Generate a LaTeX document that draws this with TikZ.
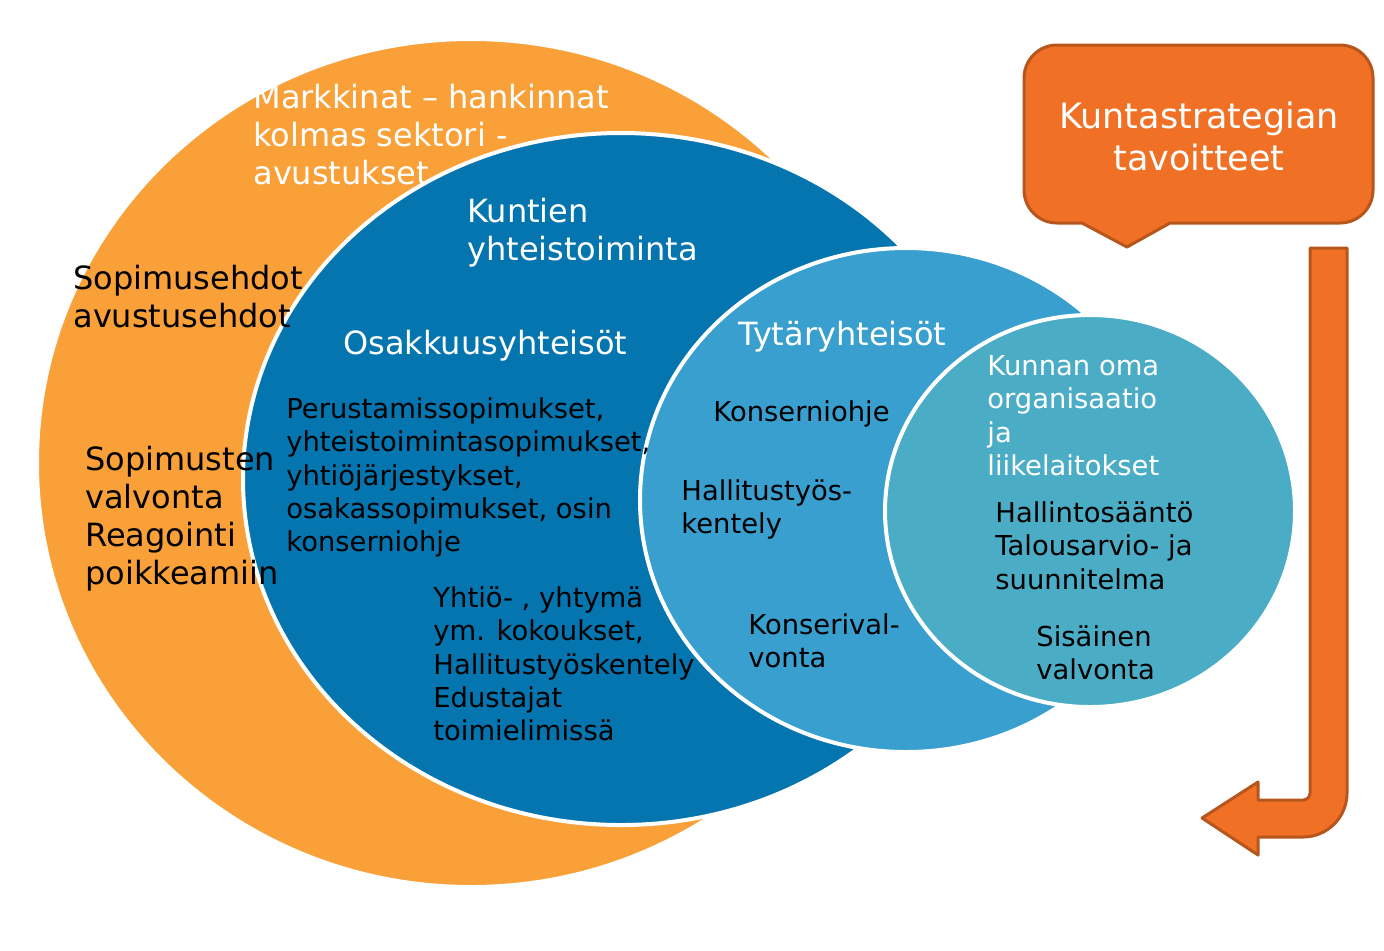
\documentclass[tikz,border=0pt]{standalone}
\usepackage{fontspec}
\setmainfont{DejaVu Sans}
\usetikzlibrary{shapes.geometric}
\definecolor{ringorange}{HTML}{F9A038}
\definecolor{ringdark}{HTML}{0575B0}
\definecolor{ringmid}{HTML}{389FCF}
\definecolor{ringteal}{HTML}{4BACC6}
\definecolor{calloutfill}{HTML}{F07125}
\definecolor{calloutedge}{HTML}{B6561D}
\begin{document}
\begin{tikzpicture}[x=0.5pt, y=-0.5pt,
    ring/.style={ellipse, draw=white, line width=2pt, inner sep=0pt},
    bigtxt/.style={anchor=north west, inner sep=0pt, align=left, font=\fontsize{16}{19}\selectfont},
    smalltxt/.style={anchor=north west, inner sep=0pt, align=left, font=\fontsize{13.7}{16.7}\selectfont},
    shapeorange/.style={fill=calloutfill, draw=calloutedge, line width=1.5pt, line join=round}]
    \useasboundingbox[fill=white] (0,0) rectangle (1384,950);
    % rings, outermost first
    \node[ring, fill=ringorange, minimum width=434pt, minimum height=424pt] (markets) at (471,463) {};
    \node[ring, fill=ringdark, minimum width=378pt, minimum height=346pt] (coop) at (621,479) {};
    \node[ring, fill=ringmid, minimum width=266pt, minimum height=252pt] (subs) at (906,500) {};
    \node[ring, fill=ringteal, minimum width=205pt, minimum height=196pt] (own) at (1090,511) {};
    % texts
    \node[bigtxt, white] (marklbl) at (253,84) {Markkinat – hankinnat\\kolmas sektori -\\avustukset};
    \node[bigtxt] (termslbl) at (73,265) {Sopimusehdot\\avustusehdot};
    \node[bigtxt] (monlbl) at (85,446) {Sopimusten\\valvonta\\Reagointi\\poikkeamiin};
    \node[bigtxt, white] (cooplbl) at (467,198) {Kuntien\\yhteistoiminta};
    \node[bigtxt, white] (assoclbl) at (343,330) {Osakkuusyhteisöt};
    \node[smalltxt] (deedlbl) at (286,397) {Perustamissopimukset,\\yhteistoimintasopimukset,\\yhtiöjärjestykset,\\osakassopimukset, osin\\konserniohje};
    \node[smalltxt] (meetlbl) at (433,586) {Yhtiö- , yhtymä\\ym. kokoukset,\\Hallitustyöskentely\\Edustajat\\toimielimissä};
    \node[bigtxt, white] (subslbl) at (738,321) {Tytäryhteisöt};
    \node[smalltxt] (guidelbl) at (713,400) {Konserniohje};
    \node[smalltxt] (boardlbl) at (681,479) {Hallitustyös-\\kentely};
    \node[smalltxt] (grouplbl) at (748,613) {Konserival-\\vonta};
    \node[smalltxt, white] (ownlbl) at (987,355) {Kunnan oma\\organisaatio\\ja\\liikelaitokset};
    \node[smalltxt] (rulelbl) at (995,501) {Hallintosääntö\\Talousarvio- ja\\suunnitelma};
    \node[smalltxt] (intlbl) at (1036,625) {Sisäinen\\valvonta};
    % callout and bent arrow
    \draw[shapeorange] (1082,223) -- (1127,247) -- (1170,223) [rounded corners=16.5pt] -- (1373,223) -- (1373,45) -- (1024,45) -- (1024,223) [sharp corners] -- cycle;
    \node[anchor=north, inner sep=0pt, align=center, white, font=\fontsize{17.5}{21}\selectfont] (goal) at (1199,101) {Kuntastrategian\\tavoitteet};
    \draw[shapeorange] (1202,818) -- (1258,782) -- (1258,800) [rounded corners=3.5pt] -- (1310,800) [sharp corners] -- (1310,248) -- (1347,248) [rounded corners=22pt] -- (1347,837) [sharp corners] -- (1258,837) -- (1258,855) -- cycle;
\end{tikzpicture}
\end{document}
